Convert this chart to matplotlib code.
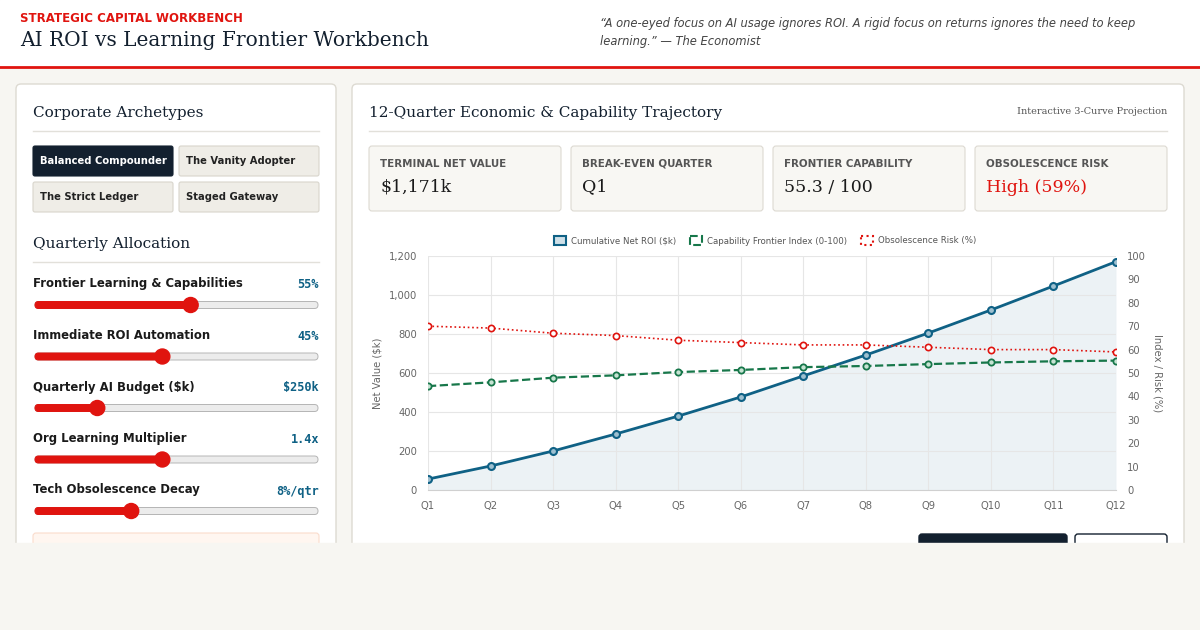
import matplotlib.pyplot as plt
from matplotlib.patches import Rectangle, FancyBboxPatch, Circle

quarters = ["Q%d" % i for i in range(1, 13)]
net_roi = [56, 123, 200, 287, 379, 477, 585, 692, 805, 923, 1046, 1171]
capability = [44.4, 46, 48, 49, 50.4, 51.3, 52.5, 53, 53.8, 54.5, 55, 55.3]
risk = [70, 69.2, 67, 66, 64, 63, 62, 62, 61, 60, 60, 59]

sliders = [("Frontier Learning & Capabilities", "55%", 0.55),
           ("Immediate ROI Automation", "45%", 0.45),
           ("Quarterly AI Budget ($k)", "$250k", 0.22),
           ("Org Learning Multiplier", "1.4x", 0.45),
           ("Tech Obsolescence Decay", "8%/qtr", 0.34)]
kpis = [("TERMINAL NET VALUE", "$1,171k", "#1a1a1a"),
        ("BREAK-EVEN QUARTER", "Q1", "#1a1a1a"),
        ("FRONTIER CAPABILITY", "55.3 / 100", "#1a1a1a"),
        ("OBSOLESCENCE RISK", "High (59%)", "#e0140f")]

RED = "#e0140f"
NAVY = "#13202f"
BLUE = "#0f6185"
GREEN = "#17774a"

fig = plt.figure(figsize=(12, 6.3), dpi=100)
fig.patch.set_facecolor("#f7f6f2")
bg = fig.add_axes([0, 0, 1, 1])
bg.set_xlim(0, 1200)
bg.set_ylim(630, 0)
bg.axis("off")

# header
bg.add_patch(Rectangle((0, 0), 1200, 67, color="white"))
bg.plot([0, 1200], [67, 67], color=RED, lw=2)
bg.text(20, 19, "STRATEGIC CAPITAL WORKBENCH", color=RED, fontsize=8.5, weight="bold", va="center")
bg.text(20, 41, "AI ROI vs Learning Frontier Workbench", color=NAVY, fontsize=14.5, family="DejaVu Serif", va="center")
bg.text(600, 24, "\u201cA one-eyed focus on AI usage ignores ROI. A rigid focus on returns ignores the need to keep",
        fontsize=8.3, style="italic", color="#444", va="center")
bg.text(600, 41, "learning.\u201d \u2014 The Economist", fontsize=8.3, style="italic", color="#444", va="center")

# panels (cut at bottom)
for x0, w in [(16, 320), (352, 832)]:
    bg.add_patch(FancyBboxPatch((x0, 84), w, 480, boxstyle="round,pad=0,rounding_size=5",
                                fc="white", ec="#dddad2", lw=1))
bg.add_patch(Rectangle((0, 543), 1200, 90, color="#f7f6f2", zorder=5))

# left panel
bg.text(33, 113, "Corporate Archetypes", fontsize=11, family="DejaVu Serif", color=NAVY, va="center")
bg.plot([33, 319], [131, 131], color="#e2e0da", lw=1)
btns = [("Balanced Compounder", 33, 146, True), ("The Vanity Adopter", 179, 146, False),
        ("The Strict Ledger", 33, 182, False), ("Staged Gateway", 179, 182, False)]
for label, x0, y0, active in btns:
    bg.add_patch(FancyBboxPatch((x0, y0), 140, 30, boxstyle="round,pad=0,rounding_size=2",
                                fc=NAVY if active else "#efede7", ec=NAVY if active else "#d8d5cc", lw=0.8))
    bg.text(x0 + 7, y0 + 15, label, fontsize=7.2, weight="bold", color="white" if active else "#222", va="center")

bg.text(33, 244, "Quarterly Allocation", fontsize=11, family="DejaVu Serif", color=NAVY, va="center")
bg.plot([33, 319], [262, 262], color="#e2e0da", lw=1)
for i, (name, val, frac) in enumerate(sliders):
    y = 284 + i * 51.5
    bg.text(33, y, name, fontsize=8.4, weight="bold", color="#1a1a1a", va="center")
    bg.text(319, y + 1, val, fontsize=8.6, weight="bold", family="DejaVu Sans Mono", color=BLUE, va="center", ha="right")
    ty = y + 21
    kx = 35 + frac * 283
    bg.add_patch(FancyBboxPatch((35, ty - 3.5), 283, 7, boxstyle="round,pad=0,rounding_size=3.5",
                                fc="#ececec", ec="#b5b5b5", lw=0.7))
    bg.add_patch(FancyBboxPatch((35, ty - 3.5), kx - 35, 7, boxstyle="round,pad=0,rounding_size=3.5",
                                fc=RED, ec=RED, lw=0.7))
    bg.add_patch(Circle((kx, ty), 7.5, color=RED))
bg.add_patch(FancyBboxPatch((33, 533), 286, 30, boxstyle="round,pad=0,rounding_size=3",
                            fc="#fff6f0", ec="#fadccc", lw=0.8))

# right panel
bg.text(369, 113, "12-Quarter Economic & Capability Trajectory", fontsize=11, family="DejaVu Serif", color=NAVY, va="center")
bg.text(1167, 112, "Interactive 3-Curve Projection", fontsize=7, family="DejaVu Serif", color="#555", va="center", ha="right")
bg.plot([369, 1167], [131, 131], color="#e2e0da", lw=1)
for i, (lab, val, col) in enumerate(kpis):
    x0 = 369 + i * 202
    bg.add_patch(FancyBboxPatch((x0, 146), 192, 65, boxstyle="round,pad=0,rounding_size=3",
                                fc="#f8f7f3", ec="#dddad2", lw=0.8))
    bg.text(x0 + 11, 164, lab, fontsize=7.4, weight="bold", color="#555", va="center")
    bg.text(x0 + 11, 187, val, fontsize=12.5, family="DejaVu Serif", color=col, va="center")
bg.add_patch(FancyBboxPatch((919, 534), 148, 30, boxstyle="round,pad=0,rounding_size=3", fc=NAVY, ec=NAVY))
bg.add_patch(FancyBboxPatch((1075, 534), 92, 30, boxstyle="round,pad=0,rounding_size=3", fc="white", ec=NAVY, lw=1))

# chart
ax = fig.add_axes([428 / 1200, 140 / 630, 688 / 1200, 234 / 630])
ax2 = ax.twinx()
x = range(len(quarters))
ax.fill_between(x, net_roi, color=BLUE, alpha=0.08, lw=0)
ax.plot(x, net_roi, color=BLUE, lw=2, marker="o", ms=5, mfc="#9ec0d0", mec=BLUE, mew=1.5)
ax2.plot(x, capability, color=GREEN, lw=1.6, ls="--", marker="o", ms=4.5, mfc="#c6e3d3", mec=GREEN, mew=1.3)
ax2.plot(x, risk, color=RED, lw=1.2, ls=":", marker="o", ms=4.5, mfc="white", mec=RED, mew=1.2)
ax.set_xlim(0, 11)
ax.set_ylim(0, 1200)
ax2.set_ylim(0, 100)
ax.set_xticks(list(x))
ax.set_xticklabels(quarters)
ax.set_yticks(range(0, 1201, 200))
ax.set_yticklabels(["{:,}".format(v) for v in range(0, 1201, 200)])
ax2.set_yticks(range(0, 101, 10))
ax.grid(color="#e6e6e6", lw=0.8)
for a in (ax, ax2):
    for s in a.spines.values():
        s.set_visible(False)
    a.tick_params(length=0, labelsize=7.2, labelcolor="#666", pad=8)
ax.spines["bottom"].set_visible(True)
ax.spines["bottom"].set_color("#d0d0d0")
ax.set_ylabel("Net Value ($k)", fontsize=7.2, color="#666", labelpad=4)
ax2.set_ylabel("Index / Risk (%)", fontsize=7.2, color="#666", rotation=270, labelpad=12)

# legend
leg = [("Cumulative Net ROI ($k)", BLUE, "-", "#cfe0e8", 554),
       ("Capability Frontier Index (0-100)", GREEN, "--", "white", 690),
       ("Obsolescence Risk (%)", RED, ":", "white", 861)]
for lab, col, ls, fc, lx in leg:
    bg.add_patch(Rectangle((lx, 236), 12, 9, fc=fc, ec=col, lw=1.5, ls=ls))
    bg.text(lx + 17, 241, lab, fontsize=6.2, color="#555", va="center")

fig.savefig("out.png", dpi=100)
